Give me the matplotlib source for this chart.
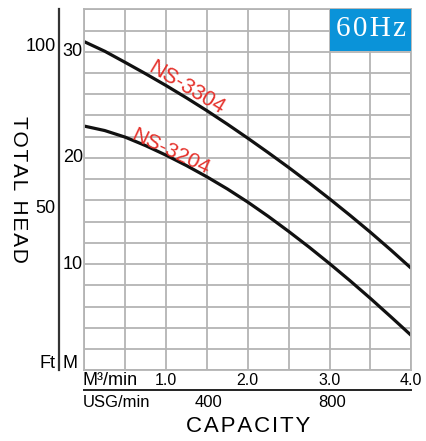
import numpy as np
import matplotlib
matplotlib.use("Agg")
import matplotlib.pyplot as plt
import matplotlib.transforms as mtransforms
from matplotlib.patches import Rectangle
from matplotlib.lines import Line2D

plt.rcParams['font.family'] = ['Liberation Sans', 'DejaVu Sans']

# capacity in m3/min, head in metres
capacity = [0.0, 0.25, 0.5, 0.75, 1.0, 1.25, 1.5, 1.75, 2.0,
            2.25, 2.5, 2.75, 3.0, 3.25, 3.5, 3.75, 4.0]
head_3304 = [30.95, 30.05, 29.0, 27.93, 26.82, 25.66, 24.45, 23.18, 21.86,
             20.5, 19.1, 17.65, 16.15, 14.6, 13.0, 11.33, 9.6]
head_3204 = [23.0, 22.58, 21.96, 21.16, 20.26, 19.28, 18.22, 17.08, 15.84,
             14.5, 13.08, 11.6, 10.05, 8.44, 6.77, 5.04, 3.28]

m3_ticks = [1.0, 2.0, 3.0, 4.0]
usg_ticks = [400, 800]
m_ticks = [10, 20, 30]
ft_ticks = [50, 100]

W, H = 426, 441
fig = plt.figure(figsize=(W / 100, H / 100), dpi=100)
ax = fig.add_axes([84.3 / W, 1 - 370.3 / H, 327 / W, 361 / H])

ax.set_xlim(0, 4)
ax.set_ylim(0, 34)
ax.set_xticks(np.arange(0, 4.01, 0.5))
ax.set_yticks(np.arange(0, 34.01, 2))
ax.grid(True, color='#b4b4b4', lw=1.3)
ax.tick_params(length=0, labelbottom=False, labelleft=False)
for s in ax.spines.values():
    s.set_color('#b4b4b4')
    s.set_linewidth(1.3)
ax.set_axisbelow(True)

ax.plot(capacity, head_3304, color='#111111', lw=2.3, solid_capstyle='butt',
        solid_joinstyle='round')
ax.plot(capacity, head_3204, color='#111111', lw=2.3, solid_capstyle='butt',
        solid_joinstyle='round')

red = '#e5312b'
ax.text(0.767, 28.2, 'NS-3304', color=red, fontsize=15.5, rotation=-31,
        rotation_mode='anchor', ha='left', va='baseline')
ax.text(0.559, 21.75, 'NS-3204', color=red, fontsize=15.3, rotation=-25,
        rotation_mode='anchor', ha='left', va='baseline')

# 60Hz badge
bx0 = (330 - 84.3) / 327
by0 = (370.3 - 51) / 361
ax.add_patch(Rectangle((bx0, by0), 1 - bx0, 1 - by0, transform=ax.transAxes,
                       facecolor='#0a93d9', edgecolor='none', zorder=5, clip_on=False))
ax.text((bx0 + 1) / 2 + 0.002, (by0 + 1) / 2 + 0.004, '6\u200a0\u200aH\u200az',
        transform=ax.transAxes, color='white', fontsize=21, family='Liberation Serif',
        ha='center', va='center', zorder=6)

# left scales
ty = mtransforms.blended_transform_factory(ax.transAxes, ax.transData)
for m in m_ticks:
    ax.text(-0.066, m, str(m), transform=ty, fontsize=13, ha='left', va='center')
for ft in ft_ticks:
    ax.text(-0.088, ft * 0.3048, str(ft), transform=ty, fontsize=13, ha='right', va='center')
ax.text(-0.088, 0.6, 'Ft', transform=ty, fontsize=13, ha='right', va='center')
ax.text(-0.066, 0.6, 'M', transform=ty, fontsize=13, ha='left', va='center')
ax.add_line(Line2D([-0.0765, -0.0765], [0, 1], transform=ax.transAxes, color='#333333',
                   lw=1.6, clip_on=False))
ax.text(-0.2, 0.5, 'T\u200aO\u200aT\u200aA\u200aL\u200a \u200aH\u200aE\u200aA\u200aD',
        transform=ax.transAxes, fontsize=15, rotation=-90, ha='center', va='center')

# bottom scales
tx = mtransforms.blended_transform_factory(ax.transData, ax.transAxes)
ax.text(-0.004, -0.0296, 'M\u00b3/min', transform=ax.transAxes, fontsize=13,
        ha='left', va='center')
for q in m3_ticks:
    ax.text(q, -0.0296, '%.1f' % q, transform=tx, fontsize=11.5, ha='center', va='center')
ax.add_line(Line2D([0, 1], [-0.0546, -0.0546], transform=ax.transAxes, color='#222222',
                   lw=1.4, clip_on=False))
ax.text(-0.004, -0.088, 'USG/min', transform=ax.transAxes, fontsize=12,
        ha='left', va='center')
for g in usg_ticks:
    ax.text(g / 264.17, -0.088, str(g), transform=tx, fontsize=12, ha='center', va='center')
ax.text(0.5, -0.157, 'C\u200aA\u200aP\u200aA\u200aC\u200aI\u200aT\u200aY', transform=ax.transAxes,
        fontsize=16, ha='center', va='center')

fig.savefig('out.png', dpi=100)
